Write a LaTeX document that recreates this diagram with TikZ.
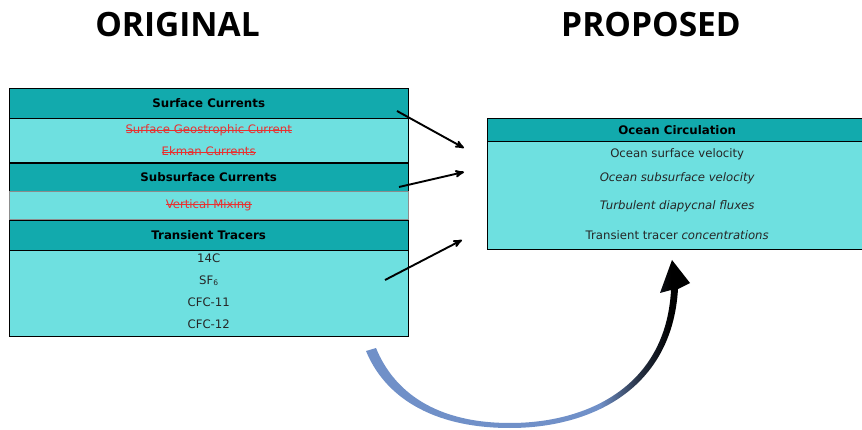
\documentclass[tikz,border=0pt]{standalone}
\usepackage{fontspec}
\setmainfont{DejaVu Sans}
\newfontfamily\titlefont{Open Sans}
\usepackage{tikz}
\usetikzlibrary{arrows,positioning}

\definecolor{hdrteal}{RGB}{18,170,173}
\definecolor{rowcyan}{RGB}{110,224,224}
\definecolor{strikered}{RGB}{232,48,48}
\definecolor{curveblue}{RGB}{112,144,200}
\newcommand{\gone}[1]{{\color{strikered}\sbox0{#1}\rlap{\rule[0.3em]{\wd0}{0.7pt}}\usebox0}}
\pgfdeclarehorizontalshading{curvefade}{100bp}{color(0bp)=(curveblue); color(25bp)=(curveblue);
  color(61bp)=(curveblue); color(67bp)=(black!65!curveblue); color(72bp)=(black); color(100bp)=(black)}

\begin{document}
\begin{tikzpicture}[x=1pt, y=-1pt, >=stealth', node distance=0pt,
    title/.style={font=\titlefont\bfseries\fontsize{33.5}{36}\selectfont},
    header/.style={draw=black, fill=hdrteal, inner sep=0pt, minimum width=399pt,
                   font=\bfseries\fontsize{11.8}{14}\selectfont},
    rows/.style={draw=black, fill=rowcyan, inner sep=0pt, minimum width=399pt,
                 align=center, text=black!85, font=\fontsize{11.7}{22}\selectfont},
    link/.style={->, line width=1.9pt}]
    \clip (0,0) rectangle (862,430);

    % Titles
    \node [title]   (orig)  at (177.5,25)  {ORIGINAL};
    \node [title]   (prop)  at (651,25)    {PROPOSED};

    % Nodes {left table}
    \node [header, minimum height=30pt, anchor=north west] (surf) at (9,88) {Surface Currents};
    \node [rows, minimum height=44pt]   (surfrows) [below=of surf]
          {\gone{Surface Geostrophic Current}\\\gone{Ekman Currents}};
    \node [header, minimum height=28pt] (sub)      [below=of surfrows] {Subsurface Currents};
    \node [rows, draw=black!45, minimum height=28pt] (subrows) [below=of sub]
          {\gone{Vertical Mixing}};
    \node [header, minimum height=30pt] (trac)     [below=of subrows] {Transient Tracers};
    \node [rows, minimum height=86pt, text depth=5pt] (tracrows) [below=of trac]
          {14C\\SF{\fontsize{7.5}{8}\selectfont\raisebox{-1pt}{6}}\\CFC-11\\CFC-12};

    % Nodes {right table}
    \node [header, minimum width=380pt, minimum height=23pt, anchor=north west] (circ) at (487,118)
          {Ocean Circulation};
    \node [rows, minimum width=380pt, minimum height=108pt, text depth=4pt,
           font=\fontsize{11.7}{24}\selectfont]
          (circrows) [below=of circ]
          {Ocean surface velocity\\\textit{Ocean subsurface velocity}\\[4pt]%
           \textit{Turbulent diapycnal fluxes}\\[6pt]Transient tracer \textit{concentrations}};

    % Paths
    \coordinate (s1) at (397,111);  \coordinate (e1) at (464,148);
    \coordinate (s2) at (399,187);  \coordinate (e2) at (464,172);
    \coordinate (s3) at (385,280);  \coordinate (e3) at (462,240);
    \draw [link] (s1) -- (e1);
    \draw [link] (s2) -- (e2);
    \draw [link] (s3) -- (e3);

    % curved arrow
    \shade [shading=curvefade]
        (366,351) .. controls (384,395) and (430,428) .. (510,428)
        .. controls (590,428) and (672,390) .. (678,289)
        -- (690,283) -- (672,260) -- (660,293) -- (671,290)
        .. controls (666,386) and (588,423) .. (510,423)
        .. controls (436,423) and (394,392) .. (376,348) -- cycle;
\end{tikzpicture}
\end{document}
